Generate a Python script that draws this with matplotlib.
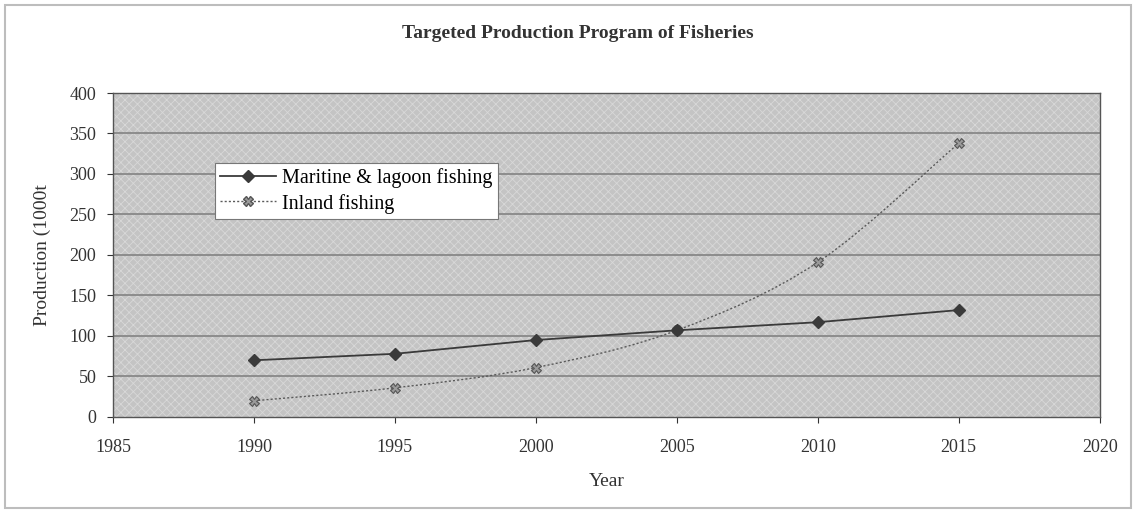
import numpy as np
import matplotlib.pyplot as plt
from matplotlib.path import Path
from matplotlib.patches import PathPatch, Rectangle

years = [1990, 1995, 2000, 2005, 2010, 2015]
maritime = [70, 78, 95, 107, 117, 132]
inland = [20, 36, 61, 107, 191, 338]

x_ticks = [1985, 1990, 1995, 2000, 2005, 2010, 2015, 2020]
y_ticks = [0, 50, 100, 150, 200, 250, 300, 350, 400]

plt.rcParams['font.family'] = ['Liberation Serif', 'DejaVu Serif']
plt.rcParams['hatch.linewidth'] = 0.6


def smooth_path(xs, ys):
    # excel-like smoothed line: catmull-rom turned into cubic bezier segments
    pts = np.column_stack([xs, ys]).astype(float)
    n = len(pts)
    verts = [pts[0]]
    codes = [Path.MOVETO]
    for i in range(n - 1):
        p0 = pts[i - 1] if i > 0 else pts[i]
        p1 = pts[i]
        p2 = pts[i + 1]
        p3 = pts[i + 2] if i + 2 < n else pts[i + 1]
        c1 = p1 + (p2 - p0) / 6.0
        c2 = p2 - (p3 - p1) / 6.0
        verts += [c1, c2, p2]
        codes += [Path.CURVE4] * 3
    return Path(verts, codes)


fig = plt.figure(figsize=(11.36, 5.11), dpi=100)
fig.patches.append(Rectangle((0.004, 0.006), 0.992, 0.985, transform=fig.transFigure,
                             fill=False, edgecolor='#bdbdbd', linewidth=1.5))
ax = fig.add_axes([0.0995, 0.184, 0.8685, 0.634])
ax.set_facecolor('#c4c4c4')
# stippled fill like the printed original
ax.add_patch(Rectangle((0, 0), 1, 1, transform=ax.transAxes, facecolor='none',
                       edgecolor='#d8d8d8', hatch='xxxx', linewidth=0, zorder=0.5))

for y in y_ticks[1:-1]:
    ax.axhline(y, color='#888888', linewidth=1.3, zorder=1)

ax.add_patch(PathPatch(smooth_path(years, inland), fill=False, edgecolor='#5a5a5a',
                       linewidth=1.0, linestyle=(0, (1.5, 1.5)), zorder=2))
ax.plot(years, inland, linestyle='none', marker='X', markersize=7,
        markerfacecolor='#9a9a9a', markeredgecolor='#555555', markeredgewidth=0.8,
        zorder=3)
ax.plot(years, maritime, color='#3a3a3a', linewidth=1.3, marker='D', markersize=6,
        markerfacecolor='#3a3a3a', markeredgecolor='#3a3a3a', zorder=4)

# legend proxies
ax.plot([], [], color='#3a3a3a', linewidth=1.3, marker='D', markersize=6,
        label='Maritine & lagoon fishing')
ax.plot([], [], color='#5a5a5a', linewidth=1.0, linestyle=(0, (1.5, 1.5)), marker='X',
        markersize=7, markerfacecolor='#9a9a9a', markeredgecolor='#555555',
        label='Inland fishing')
leg = ax.legend(loc='upper left', bbox_to_anchor=(0.103, 0.785), frameon=True,
                fancybox=False, edgecolor='#777777', framealpha=1, fontsize=14.5,
                handlelength=2.8, borderpad=0.25, labelspacing=0.3, handletextpad=0.3,
                borderaxespad=0)
leg.get_frame().set_linewidth(0.8)

ax.set_xlim(1985, 2020)
ax.set_ylim(0, 400)
ax.set_xticks(x_ticks)
ax.set_yticks(y_ticks)
ax.tick_params(direction='out', length=4, labelsize=13, colors='#333333')
ax.tick_params(axis='x', pad=12)
ax.tick_params(axis='y', pad=8)
for s in ax.spines.values():
    s.set_color('#555555')
    s.set_linewidth(1.0)

ax.set_xlabel('Year', fontsize=14, color='#333333', labelpad=12)
ax.set_ylabel('Production (1000t', fontsize=14, color='#333333', labelpad=13)
fig.text(0.509, 0.935, 'Targeted Production Program of Fisheries', ha='center',
         va='center', fontsize=14, fontweight='bold', color='#333333')

fig.savefig('out.png', dpi=100)
